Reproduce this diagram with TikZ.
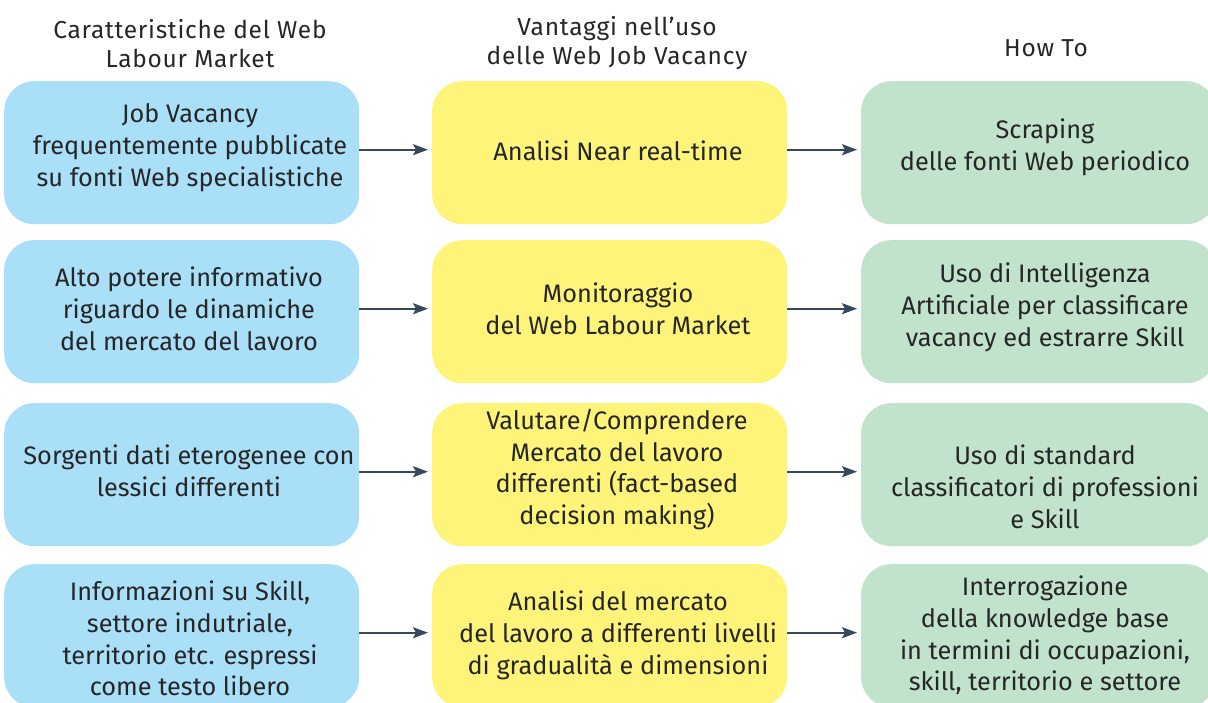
\documentclass[tikz,border=0pt]{standalone}
\usepackage{fontspec}
\setmainfont{Fira Sans}
\newfontfamily\headfont[LetterSpace=3]{Fira Sans}
\usetikzlibrary{arrows.meta}
\definecolor{cblue}{HTML}{AADFF8}
\definecolor{cyellow}{HTML}{FFF47A}
\definecolor{cgreen}{HTML}{C1E2CB}
\definecolor{carrow}{HTML}{34495E}
\definecolor{ctext}{HTML}{262626}
\tikzset{
  box/.style={rounded corners=30pt, minimum width=355pt, minimum height=143pt, inner sep=0pt, anchor=north west},
  bluebox/.style={box, fill=cblue},
  yellowbox/.style={box, fill=cyellow},
  greenbox/.style={box, fill=cgreen},
  txt/.style={align=center, text=ctext, font=\fontsize{25.3}{31.8}\selectfont, inner sep=0pt, yshift=-2.5pt},
  head/.style={align=center, text=ctext, font=\headfont\fontsize{24.5}{29}\selectfont, inner sep=0pt},
  conn/.style={draw=carrow, line width=1.8pt, -{Stealth[length=15pt,width=11pt,inset=3pt]}, shorten >=4pt}
}
\begin{document}
\begin{tikzpicture}[x=1pt,y=-1pt]
\useasboundingbox (0,0) rectangle (1208,702);
\clip (0,0) rectangle (1208,702);
% headers
\node[head] (h1) at (190,44) {Caratteristiche del Web\\Labour Market};
\node[head] (h2) at (617,43) {Vantaggi nell’uso\\delle Web Job Vacancy};
\node[head] (h3) at (1046,48) {How To};
% boxes
\foreach \r/\t in {1/81,2/240,3/403,4/564}{
  \node[bluebox] (b\r) at (4,\t) {};
  \node[yellowbox] (y\r) at (432,\t) {};
  \node[greenbox] (g\r) at (861,\t) {};
}
% texts
\node[txt] (tb1) at (190,145) {Job Vacancy\\frequentemente pubblicate\\su fonti Web specialistiche};
\node[txt] (tb2) at (189,306) {Alto potere informativo\\riguardo le dinamiche\\del mercato del lavoro};
\node[txt] (tb3) at (189,468) {Sorgenti dati eterogenee con\\lessici differenti};
\node[txt] (tb4) at (190,636) {Informazioni su Skill,\\settore indutriale,\\territorio etc. espressi\\come testo libero};
\node[txt] (ty1) at (618,148) {Analisi Near real-time};
\node[txt] (ty2) at (618,306) {Monitoraggio\\del Web Labour Market};
\node[txt] (ty3) at (617,467) {Valutare/Comprendere\\Mercato del lavoro\\differenti (fact-based\\decision making)};
\node[txt] (ty4) at (618,633) {Analisi del mercato\\del lavoro a differenti livelli\\di gradualità e dimensioni};
\node[txt] (tg1) at (1045,145) {Scraping\\delle fonti Web periodico};
\node[txt] (tg2) at (1045,305) {Uso di Intelligenza\\Artificiale per classificare\\vacancy ed estrarre Skill};
\node[txt] (tg3) at (1045,484) {Uso di standard\\classificatori di professioni\\e Skill};
\node[txt] (tg4) at (1045,633) {Interrogazione\\della knowledge base\\in termini di occupazioni,\\skill, territorio e settore};
% connectors
\foreach \r in {1,2,3,4}{
  \draw[conn] ([yshift=3pt]b\r.east) -- ([yshift=3pt]y\r.west);
  \draw[conn] ([yshift=3pt]y\r.east) -- ([yshift=3pt]g\r.west);
}
\end{tikzpicture}
\end{document}
